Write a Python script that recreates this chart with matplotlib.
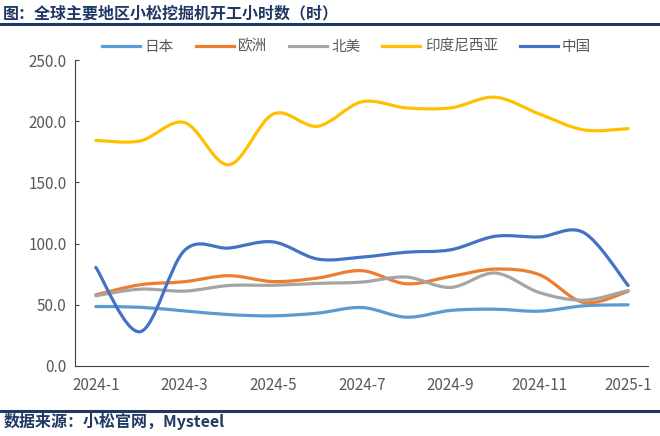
import numpy as np
import matplotlib
matplotlib.use('Agg')
from matplotlib import pyplot as plt
from matplotlib.path import Path
from matplotlib.patches import PathPatch
from matplotlib.lines import Line2D

plt.rcParams['font.family'] = ['Noto Sans CJK SC', 'DejaVu Sans']

months = ['2024-1', '2024-2', '2024-3', '2024-4', '2024-5', '2024-6', '2024-7',
          '2024-8', '2024-9', '2024-10', '2024-11', '2024-12', '2025-1']
japan = [48.6, 48.0, 45.0, 42.0, 41.0, 43.2, 47.8, 39.9, 45.4, 46.4, 44.8, 49.2, 50.0]
europe = [58.2, 66.4, 68.9, 73.8, 69.0, 71.9, 77.9, 67.2, 73.2, 79.2, 74.6, 51.9, 61.0]
n_america = [57.4, 62.8, 61.2, 65.8, 66.0, 67.5, 68.6, 72.7, 64.2, 76.0, 60.0, 53.8, 61.7]
indonesia = [184.4, 184.0, 199.0, 164.5, 206.0, 196.0, 216.0, 211.0, 211.0, 219.7, 206.0, 193.0, 194.0]
china = [80.6, 28.0, 94.5, 96.4, 101.4, 87.4, 89.0, 93.0, 95.0, 106.0, 105.5, 109.0, 65.8]

series = [('日本', japan, '#5B9BD5'),
          ('欧洲', europe, '#ED7D31'),
          ('北美', n_america, '#A5A5A5'),
          ('印度尼西亚', indonesia, '#FFC000'),
          ('中国', china, '#4472C4')]

navy = '#1F3864'
grey_text = '#595959'


def smooth_path(x, y):
    # Excel-style smoothed line: cubic Bezier through each point
    x = np.asarray(x, float)
    y = np.asarray(y, float)
    n = len(x)
    verts = [(x[0], y[0])]
    codes = [Path.MOVETO]
    for i in range(n - 1):
        p0 = (x[max(i - 1, 0)], y[max(i - 1, 0)])
        p1 = (x[i], y[i])
        p2 = (x[i + 1], y[i + 1])
        p3 = (x[min(i + 2, n - 1)], y[min(i + 2, n - 1)])
        c1 = (p1[0] + (p2[0] - p0[0]) / 6, p1[1] + (p2[1] - p0[1]) / 6)
        c2 = (p2[0] - (p3[0] - p1[0]) / 6, p2[1] - (p3[1] - p1[1]) / 6)
        verts += [c1, c2, p2]
        codes += [Path.CURVE4] * 3
    return Path(verts, codes)


fig = plt.figure(figsize=(6.6, 4.36), dpi=100)
ax = fig.add_axes([0.1136, 0.1606, 0.8684, 0.7014])

xs = np.arange(len(months))
for name, vals, color in series:
    ax.add_patch(PathPatch(smooth_path(xs, vals), facecolor='none', edgecolor=color,
                           lw=2.3, capstyle='round', joinstyle='round'))

ax.set_xlim(-0.47, 12.45)
ax.set_ylim(0, 250)
ax.set_yticks(np.arange(0, 251, 50))
ax.set_yticklabels([f'{v:.1f}' for v in np.arange(0, 251, 50)])
ax.set_xticks(xs[::2])
ax.set_xticklabels(months[::2])
ax.tick_params(axis='y', direction='in', length=3, width=0.8, colors='#404040',
               labelcolor=grey_text, labelsize=11, pad=6)
ax.tick_params(axis='x', length=0, labelcolor=grey_text, labelsize=11, pad=8)
for s in ['top', 'right']:
    ax.spines[s].set_visible(False)
for s in ['left', 'bottom']:
    ax.spines[s].set_color('#404040')
    ax.spines[s].set_linewidth(0.8)

handles = [Line2D([], [], color=c, lw=2.3) for _, _, c in series]
fig.legend(handles, [n for n, _, _ in series], loc='center left',
           bbox_to_anchor=(0.135, 0.893), ncol=5, frameon=False,
           fontsize=10.5, labelcolor=grey_text, handlelength=2.6,
           handletextpad=0.3, columnspacing=1.5)

fig.text(0.005, 0.97, '图：全球主要地区小松挖掘机开工小时数（时）', fontsize=11.5,
         fontweight='bold', color=navy, va='center', ha='left')
fig.add_artist(Line2D([0, 1], [0.945, 0.945], color=navy, lw=2.2,
                      transform=fig.transFigure))
fig.add_artist(Line2D([0, 1], [0.058, 0.058], color=navy, lw=2.2,
                      transform=fig.transFigure))
fig.text(0.005, 0.033, '数据来源：小松官网，Mysteel', fontsize=11.5,
         fontweight='bold', color=navy, va='center', ha='left')

fig.savefig('out.png', dpi=100)
